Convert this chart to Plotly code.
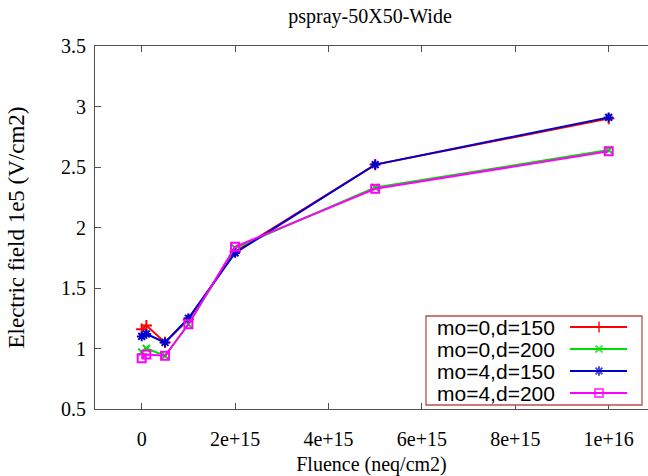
import plotly.graph_objects as go

# ---- data ----
fluence = [0, 1e14, 5e14, 1e15, 2e15, 5e15, 1e16]
field_mo0_d150 = [1.16, 1.19, 1.05, 1.24, 1.80, 2.52, 2.90]
field_mo0_d200 = [0.97, 1.00, 0.94, 1.20, 1.83, 2.33, 2.64]
field_mo4_d150 = [1.10, 1.12, 1.05, 1.25, 1.79, 2.52, 2.91]
field_mo4_d200 = [0.92, 0.95, 0.94, 1.20, 1.84, 2.32, 2.63]

series_names = ["mo=0,d=150", "mo=0,d=200", "mo=4,d=150", "mo=4,d=200"]
series_values = [field_mo0_d150, field_mo0_d200, field_mo4_d150, field_mo4_d200]
colors = ["#ff0000", "#00dd00", "#0000cc", "#ff00ff"]
symbols = ["cross-thin", "x-thin", "asterisk", "square-open"]
sizes = [8, 7, 8, 8]

x_tickvals = [0, 2e15, 4e15, 6e15, 8e15, 1e16]
x_ticktext = ["0", "2e+15", "4e+15", "6e+15", "8e+15", "1e+16"]
y_tickvals = [0.5, 1, 1.5, 2, 2.5, 3, 3.5]
y_ticktext = ["0.5", "1", "1.5", "2", "2.5", "3", "3.5"]

W, H = 648, 476
L, R, T, B = 95, 0, 46, 67
serif = "Liberation Serif"
sans = "Liberation Sans"
frame = "#505050"
fs = 20

fig = go.Figure()
for name, vals, c, s, sz in zip(series_names, series_values, colors, symbols, sizes):
    fig.add_trace(go.Scatter(
        x=fluence, y=vals, name=name, mode="lines+markers",
        line=dict(color=c, width=2),
        marker=dict(symbol=s, size=sz, color=c, line=dict(color=c, width=2)),
        showlegend=False, cliponaxis=False,
    ))

# ---- custom gnuplot-style legend (text left, sample right) ----
pw, ph = W - L - R, H - T - B
bx0, bx1, by_top, by_bot = 426, 642, 316, 405
dom_x = [(bx0 - L) / pw, (bx1 - L) / pw]
dom_y = [(H - B - by_bot) / ph, (H - B - by_top) / ph]
bw, bh = bx1 - bx0, by_bot - by_top
row_y = [bh - 11 - 22 * i for i in range(4)]
for i, (name, c, s, sz) in enumerate(zip(series_names, colors, symbols, sizes)):
    fig.add_trace(go.Scatter(
        x=[144, 173, 201], y=[row_y[i]] * 3, mode="lines+markers",
        line=dict(color=c, width=2),
        marker=dict(symbol=s, size=[0, sz, 0], color=c, line=dict(color=c, width=2)),
        xaxis="x2", yaxis="y2", showlegend=False, hoverinfo="skip",
    ))
    fig.add_annotation(x=9, y=row_y[i], xref="x2", yref="y2", text=name,
                       showarrow=False, xanchor="left", yanchor="middle",
                       font=dict(family=sans, size=21, color="black"))
fig.add_shape(type="rect", xref="x2 domain", yref="y2 domain", x0=0, x1=1, y0=0, y1=1,
              line=dict(color="#b85050", width=1.3), fillcolor="rgba(0,0,0,0)")

x_min = -1e15
x_max = x_min + pw / 46.7 * 1e15

fig.update_layout(
    width=W, height=H,
    margin=dict(l=L, r=R, t=T, b=B),
    paper_bgcolor="white", plot_bgcolor="white",
    title=dict(text="pspray-50X50-Wide", x=370 / W, xanchor="center", y=1 - 16 / H, yanchor="middle",
               font=dict(family=serif, size=fs, color="black")),
    font=dict(family=serif, size=fs, color="black"),
    xaxis=dict(range=[x_min, x_max], tickvals=x_tickvals, ticktext=x_ticktext,
               ticks="inside", ticklen=6, tickcolor=frame, showgrid=False, zeroline=False,
               showline=True, linecolor=frame, linewidth=1, mirror="ticks",
               ticklabelstandoff=12,
               tickfont=dict(family=serif, size=fs),
               title=dict(text="Fluence (neq/cm2)", standoff=10, font=dict(family=serif, size=fs))),
    yaxis=dict(range=[0.5, 3.5], tickvals=y_tickvals, ticktext=y_ticktext,
               ticks="inside", ticklen=6, tickcolor=frame, showgrid=False, zeroline=False,
               showline=True, linecolor=frame, linewidth=1,
               ticklabelstandoff=4,
               tickfont=dict(family=serif, size=fs),
               title=dict(text="Electric field 1e5 (V/cm2)", standoff=29, font=dict(family=serif, size=23))),
    xaxis2=dict(domain=dom_x, range=[0, bw], visible=False, anchor="y2"),
    yaxis2=dict(domain=dom_y, range=[0, bh], visible=False, anchor="x2"),
)

fig.write_html("out.html")
